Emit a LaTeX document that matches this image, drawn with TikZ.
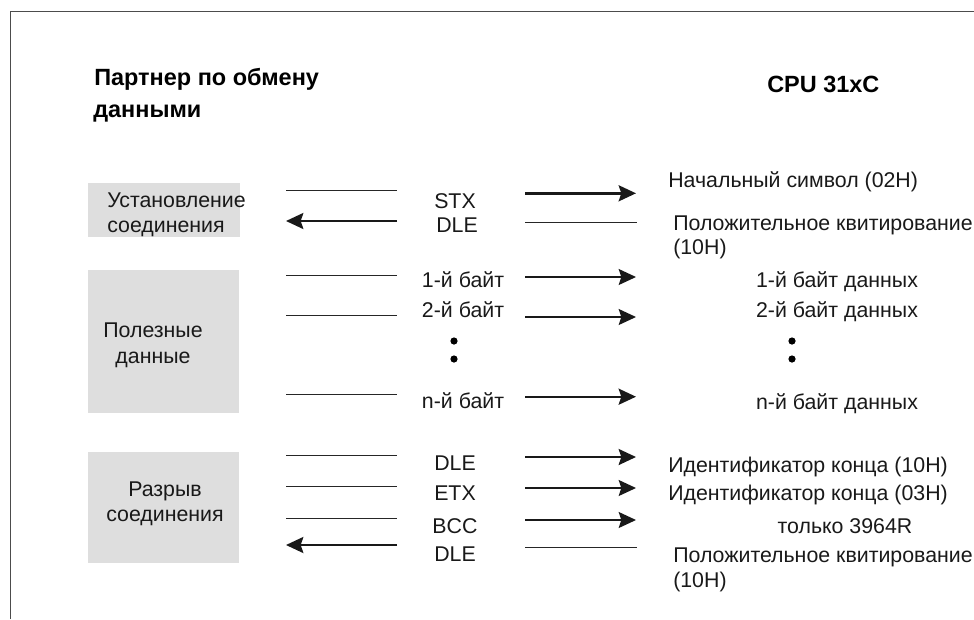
\documentclass[tikz,border=0pt]{standalone}
\usepackage{fontspec}
\setmainfont{Liberation Sans}
\usetikzlibrary{arrows.meta}
\tikzset{
  x=0.75pt,y=-0.75pt,
  lab/.style={inner sep=0pt,font=\fontsize{16pt}{19pt}\selectfont,text=black!90,anchor=base},
  labl/.style={lab,anchor=base west},
  head/.style={inner sep=0pt,font=\fontsize{17.6pt}{21pt}\selectfont\bfseries,anchor=base west},
  band/.style={fill=black!13,draw=none,inner sep=0pt,anchor=north west},
  plain/.style={line width=0.75pt,black!85},
  arr/.style={line width=1.3pt,black!90,-{Stealth[length=13pt,width=12pt,inset=2pt]}},
  arrthick/.style={arr,line width=1.8pt},
  frame/.style={line width=0.6pt,black!70},
  pt/.style={circle,fill=black,inner sep=0pt,minimum size=5.4pt},
}
\newcommand{\link}[5]{%
  \coordinate (#1a) at (#3,#5);\coordinate (#1b) at (#4,#5);\draw[#2] (#1a) -- (#1b);}
\begin{document}
\begin{tikzpicture}
\useasboundingbox (0,0) rectangle (974,619);
\coordinate (f1) at (10.5,619);\coordinate (f2) at (10.5,11.5);\coordinate (f3) at (974,11.5);
\draw[frame] (f1) -- (f2) -- (f3);
\node[band,minimum width=152pt*0.75,minimum height=54pt*0.75] (b1) at (88,183) {};
\node[band,minimum width=151pt*0.75,minimum height=143pt*0.75] (b2) at (88,270) {};
\node[band,minimum width=151pt*0.75,minimum height=111pt*0.75] (b3) at (88,452) {};
\node[head] (h1) at (94,85) {Партнер по обмену};
\node[head] (h2) at (93,117) {данными};
\node[head] (h3) at (767,92) {CPU 31xC};
\node[labl] (t1) at (107,207) {Установление};
\node[labl] (t2) at (107,232) {соединения};
\node[lab] (t3) at (153,337) {Полезные};
\node[lab] (t3b) at (153,363) {данные};
\node[lab] (t4) at (165,496) {Разрыв};
\node[lab] (t4b) at (165,521) {соединения};
\node[lab] (s1) at (455,208) {STX};
\node[lab] (s2) at (457,232) {DLE};
\node[lab] (s3) at (463,287) {1-й байт};
\node[lab] (s4) at (463,317) {2-й байт};
\node[lab] (s5) at (463,408) {n-й байт};
\node[lab] (s6) at (455,470) {DLE};
\node[lab] (s7) at (455,500) {ETX};
\node[lab] (s8) at (455,533) {BCC};
\node[lab] (s9) at (455,561) {DLE};
\node[labl] (r1) at (668,187) {Начальный символ (02H)};
\node[labl] (r2) at (673,230) {Положительное квитирование};
\node[labl] (r2b) at (673,254) {(10H)};
\node[lab] (r3) at (837,287) {1-й байт данных};
\node[lab] (r4) at (837,317) {2-й байт данных};
\node[lab] (r5) at (837,409) {n-й байт данных};
\node[labl] (r6) at (668,472) {Идентификатор конца (10H)};
\node[labl] (r7) at (668,500) {Идентификатор конца (03H)};
\node[lab] (r8) at (845,533) {только 3964R};
\node[labl] (r9) at (673,562) {Положительное квитирование};
\node[labl] (r9b) at (673,587) {(10H)};
\node[pt] (d1) at (454,341) {};\node[pt] (d2) at (454,359) {};
\node[pt] (d3) at (792,341) {};\node[pt] (d4) at (792,359) {};
\link{l1}{plain}{286}{397}{190.7}
\link{l2}{plain}{286}{397}{275}
\link{l3}{plain}{286}{397}{315}
\link{l4}{plain}{286}{397}{394}
\link{l5}{plain}{286}{397}{455}
\link{l6}{plain}{286}{397}{486}
\link{l7}{plain}{286}{397}{518}
\link{la}{arrthick}{397}{286}{221}
\link{lb}{arrthick}{397}{286}{545}
\link{m1}{arrthick}{525}{636}{193.3}
\link{m2}{plain}{525}{637}{222.3}
\link{m3}{arr}{525}{636}{277}
\link{m4}{arr}{525}{636}{317}
\link{m5}{arrthick}{525}{636}{396.7}
\link{m6}{arrthick}{525}{636}{457}
\link{m7}{arr}{525}{636}{488}
\link{m8}{arr}{525}{636}{520}
\link{m9}{plain}{525}{637}{547}
\end{tikzpicture}
\end{document}
